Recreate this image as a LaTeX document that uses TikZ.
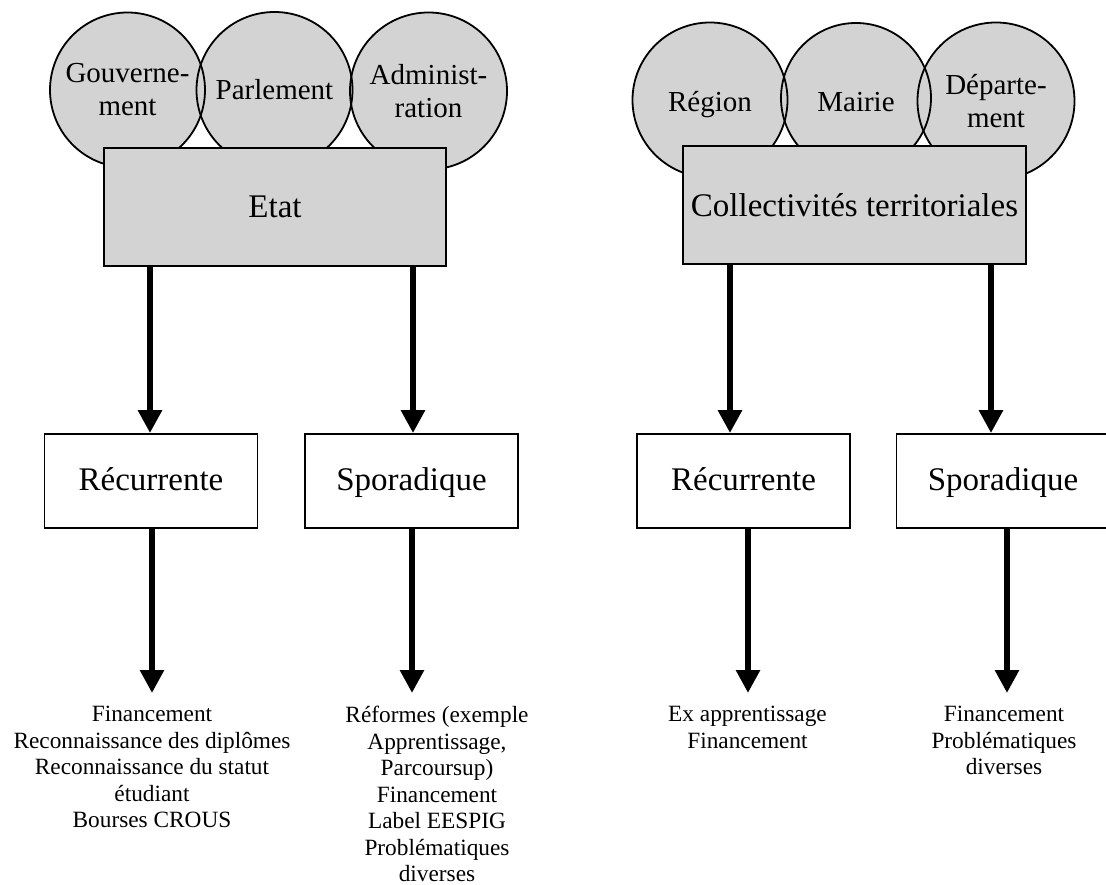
\documentclass[tikz,border=0pt]{standalone}
\usepackage{fontspec}
\setmainfont{Liberation Serif}
\usetikzlibrary{arrows.meta}
\definecolor{boxgray}{RGB}{211,211,211}
\tikzset{
  bubble/.style={circle, fill=boxgray, minimum size=#1, inner sep=0pt, align=center, font=\fontsize{29}{33}\selectfont},
  bubble/.default=155pt,
  rim/.style={draw=black, line width=1.8pt},
  bigbox/.style={rectangle, draw=black, line width=1.8pt, fill=boxgray, minimum width=342pt, minimum height=118pt, inner sep=0pt, font=\fontsize{33}{38}\selectfont},
  kindbox/.style={rectangle, draw=black, line width=1.8pt, fill=white, minimum width=213pt, minimum height=94pt, inner sep=0pt, text height=23pt, text depth=5pt, font=\fontsize{33}{38}\selectfont},
  itemtext/.style={anchor=north, inner sep=0pt, align=center, font=\fontsize{23.3}{26.5}\selectfont},
  flow/.style={line width=6pt, -{Triangle[length=23pt,width=23pt]}},
}
\begin{document}
\begin{tikzpicture}[x=1pt,y=-1pt]
\useasboundingbox (0,0) rectangle (1106,885);
\clip (0,0) rectangle (1106,885);
\fill[white] (0,0) rectangle (1106,885);

% ---- Etat group: bubbles ----
\node[bubble=155pt] (gouv) at (127.5,90) {Gouverne-\\ment};
\node[bubble=156pt] (parl) at (274.5,90) {Parlement};
\node[bubble=157pt] (admin) at (428.5,91) {Administ-\\ration};
% ---- Collectivites group: bubbles ----
\node[bubble=155pt, text height=27pt, text depth=4pt] (region) at (710,100) {Région};
\node[bubble=150pt, text height=27pt, text depth=0pt] (mairie) at (856,98) {Mairie};
\node[bubble=157pt] (dept) at (996,101) {Départe-\\ment};

% outlines drawn over all fills, so every rim shows where bubbles overlap
\draw[rim] (gouv.center) circle[radius=77.5];
\draw[rim] (parl.center) circle[radius=78];
\draw[rim] (admin.center) circle[radius=78.5];
\draw[rim] (region.center) circle[radius=77.5];
\draw[rim] (mairie.center) circle[radius=75];
\draw[rim] (dept.center) circle[radius=78.5];

% ---- main boxes ----
\node[bigbox] (etat) at (275,207) {Etat};
\node[bigbox, minimum width=343pt] (coll) at (854.5,205) {Collectivités territoriales};

\node[kindbox] (rec1) at (151,481) {Récurrente};
\node[kindbox] (spo1) at (411.5,481) {Sporadique};
\node[kindbox] (rec2) at (743.5,481) {Récurrente};
\node[kindbox] (spo2) at (1003,481) {Sporadique};

% ---- item texts ----
\node[itemtext] (t1) at (152,706) {Financement\\Reconnaissance des diplômes\\Reconnaissance du statut\\étudiant\\Bourses CROUS};
\node[itemtext] (t2) at (437,706) {Réformes (exemple\\Apprentissage,\\Parcoursup)\\Financement\\Label EESPIG\\Problématiques\\diverses};
\node[itemtext] (t3) at (747.5,706) {Ex apprentissage\\Financement};
\node[itemtext] (t4) at (1004,706) {Financement\\Problématiques\\diverses};

% ---- arrow columns ----
\coordinate (u1) at (150,0);
\coordinate (u2) at (413,0);
\coordinate (u3) at (730,0);
\coordinate (u4) at (991,0);
\coordinate (e1) at (152,693);
\coordinate (e2) at (412,693);
\coordinate (e3) at (748,693);
\coordinate (e4) at (1007,693);

\draw[flow] (etat.south -| u1) -- (rec1.north -| u1);
\draw[flow] (etat.south -| u2) -- (spo1.north -| u2);
\draw[flow] (coll.south -| u3) -- (rec2.north -| u3);
\draw[flow] (coll.south -| u4) -- (spo2.north -| u4);

\draw[flow] (rec1.south -| e1) -- (e1);
\draw[flow] (spo1.south -| e2) -- (e2);
\draw[flow] (rec2.south -| e3) -- (e3);
\draw[flow] (spo2.south -| e4) -- (e4);
\end{tikzpicture}
\end{document}
